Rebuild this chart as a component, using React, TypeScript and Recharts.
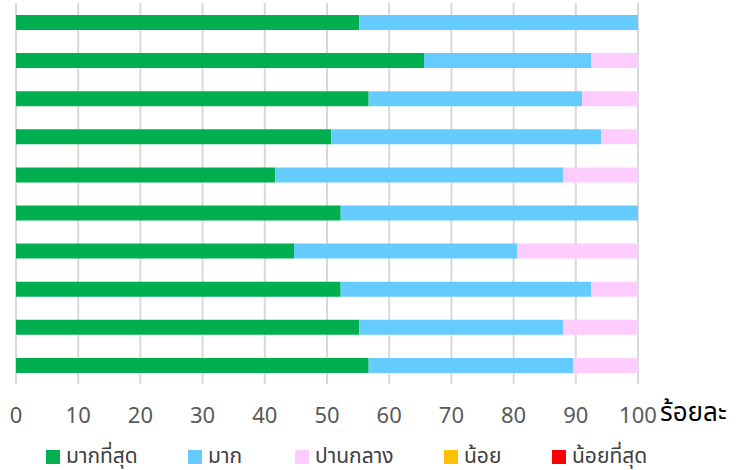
import React from "react";
import { BarChart, Bar, XAxis, YAxis, CartesianGrid } from "recharts";

const items = ["1", "2", "3", "4", "5", "6", "7", "8", "9", "10"];
const mostValues = [55.2, 65.6, 56.7, 50.7, 41.7, 52.2, 44.7, 52.2, 55.2, 56.7];
const muchValues = [44.8, 26.9, 34.3, 43.4, 46.3, 47.8, 35.9, 40.3, 32.8, 32.9];
const midValues = [0, 7.5, 9.0, 5.9, 12.0, 0, 19.4, 7.5, 12.0, 10.4];
const lowValues = [0, 0, 0, 0, 0, 0, 0, 0, 0, 0];
const leastValues = [0, 0, 0, 0, 0, 0, 0, 0, 0, 0];
const xTicks = [0, 10, 20, 30, 40, 50, 60, 70, 80, 90, 100];

const series = [
  { key: "most", name: "มากที่สุด", color: "#00B050" },
  { key: "much", name: "มาก", color: "#66CCFF" },
  { key: "mid", name: "ปานกลาง", color: "#FFCCFF" },
  { key: "low", name: "น้อย", color: "#FFC000" },
  { key: "least", name: "น้อยที่สุด", color: "#FF0000" },
];

const data = items.map((item, i) => ({
  item,
  most: mostValues[i],
  much: muchValues[i],
  mid: midValues[i],
  low: lowValues[i],
  least: leastValues[i],
}));

const font = "'Noto Sans Thai', 'Noto Sans', 'Open Sans', sans-serif";
const legendX = [46, 188, 295, 444, 552];

export default function App() {
  return (
    <div style={{ position: "absolute", left: 0, top: 0, width: 743, height: 470, background: "#fff", fontFamily: font }}>
      <BarChart
        width={743}
        height={470}
        data={data}
        layout="vertical"
        margin={{ top: 3, right: 105, left: 16, bottom: 46 }}
        barSize={15}
      >
        <CartesianGrid horizontal={false} stroke="#D9D9D9" strokeWidth={2} />
        <XAxis
          type="number"
          domain={[0, 100]}
          ticks={xTicks}
          interval={0}
          height={40}
          axisLine={false}
          tickLine={false}
          tickMargin={17}
          tick={{ fill: "#595959", fontSize: 22, fontFamily: font }}
          label={{ value: "ร้อยละ", position: "right", offset: 22, dy: 8, fill: "#000", fontSize: 26, fontFamily: font }}
        />
        <YAxis type="category" dataKey="item" hide />
        {series.map((s) => (
          <Bar key={s.key} dataKey={s.key} name={s.name} stackId="a" fill={s.color} isAnimationActive={false} />
        ))}
      </BarChart>
      <svg width={743} height={70} style={{ position: "absolute", left: 0, top: 400, overflow: "visible" }}>
        {series.map((s, i) => (
          <g key={s.key}>
            <rect x={legendX[i]} y={50} width={14} height={14} fill={s.color} />
            <text x={legendX[i] + 20} y={56} dominantBaseline="central" fontSize={21} fill="#404040" fontFamily={font}>
              {s.name}
            </text>
          </g>
        ))}
      </svg>
    </div>
  );
}
